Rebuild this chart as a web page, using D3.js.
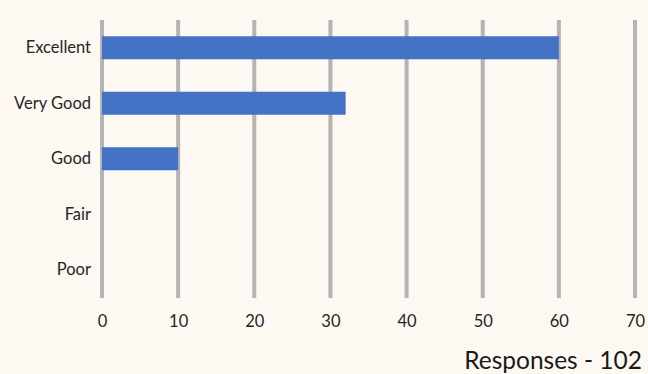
<!DOCTYPE html>
<html><head><meta charset="utf-8">
<script src="https://cdn.jsdelivr.net/npm/d3@7"></script>
<style>html,body{margin:0;padding:0;background:#fdf8f2;}svg{display:block;}</style>
</head><body>
<svg id="chart" width="648" height="374"></svg>
<script>
const categories = ["Excellent", "Very Good", "Good", "Fair", "Poor"];
const values = [60, 32, 10, 0, 0];
const xTicks = [0, 10, 20, 30, 40, 50, 60, 70];
const footer = "Responses - 102";

const svg = d3.select("#chart");
const W = 648, H = 374;
const font = "Lato, 'Noto Sans', sans-serif";
svg.append("rect").attr("width", W).attr("height", H).attr("fill", "#fdf8f2");

const x = d3.scaleLinear().domain([0, 70]).range([102, 635]);
const y = d3.scaleBand().domain(categories).range([20, 297.5]).paddingInner(0.585).paddingOuter(0.2925);

// gridlines
svg.append("g").selectAll("line").data(xTicks).join("line")
  .attr("x1", d => x(d)).attr("x2", d => x(d))
  .attr("y1", 20).attr("y2", 298)
  .attr("stroke", "#b4b4b4").attr("stroke-width", 4);

// bars
svg.append("g").selectAll("rect").data(categories).join("rect")
  .attr("x", x(0))
  .attr("y", d => y(d))
  .attr("width", (d, i) => x(values[i]) - x(0))
  .attr("height", y.bandwidth())
  .attr("fill", "#4472c4");

// x axis labels
const xAxis = d3.axisBottom(x).tickValues(xTicks).tickSize(0).tickPadding(0);
const gx = svg.append("g").attr("transform", "translate(0,315)").call(xAxis);
gx.select(".domain").remove();
gx.selectAll("text").attr("font-family", font).attr("font-size", 16.5).attr("fill", "#262626").attr("dy", "0.71em");

// y axis labels
const yAxis = d3.axisLeft(y).tickSize(0).tickPadding(0);
const gy = svg.append("g").attr("transform", "translate(91,0)").call(yAxis);
gy.select(".domain").remove();
gy.selectAll("text").attr("font-family", font).attr("font-size", 16.5).attr("fill", "#262626");

svg.append("text").attr("x", 642).attr("y", 369).attr("text-anchor", "end")
  .attr("font-family", font).attr("font-size", 24.5).attr("fill", "#1a1a1a")
  .text(footer);
</script>
</body></html>
